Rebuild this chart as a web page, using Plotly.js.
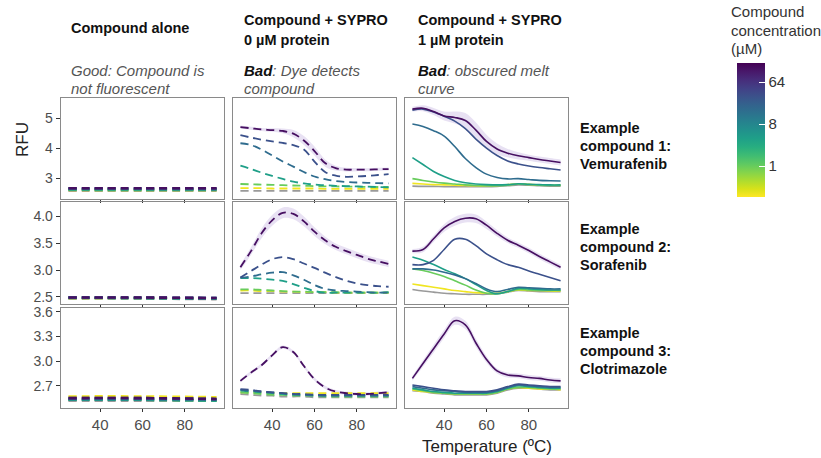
<!DOCTYPE html>
<html>
<head>
<meta charset="utf-8">
<script src="https://cdn.plot.ly/plotly-3.0.1.min.js"></script>
<style>html,body{margin:0;padding:0;background:#fff}#chart{width:821px;height:458px}</style>
</head>
<body>
<div id="chart"></div>
<script>
// ---------------- DATA ----------------
const T = [25,30,35,40,45,50,55,60,65,70,75,80,85,90,95];
const T_FLAT = [25,60,95];
// series order in every panel: 0 µM (gray), then compound concentrations
const CONC = [0.25, 1, 4, 16, 32, 128];
const colHeaders = [["Compound alone"],["Compound + SYPRO","0 µM protein"],["Compound + SYPRO","1 µM protein"]];
const colNotes = [["Good: Compound is","not fluorescent"],["<b>Bad</b>: Dye detects","compound"],["<b>Bad</b>: obscured melt","curve"]];
const rowLabels = [["Example","compound 1:","Vemurafenib"],["Example","compound 2:","Sorafenib"],["Example","compound 3:","Clotrimazole"]];
const yTicks = [[3,4,5],[2.5,3.0,3.5,4.0],[2.7,3.0,3.3,3.6]];
const yRanges = [[2.3,5.67],[2.37,4.26],[2.43,3.645]];
const xTicks = [40,60,80];
const cbTicks = [1,8,64];

// Vemurafenib
const vem_alone = [
 [2.58,2.58,2.58],[2.60,2.60,2.60],[2.61,2.60,2.60],[2.62,2.62,2.62],
 [2.64,2.64,2.63],[2.66,2.66,2.65],[2.66,2.66,2.66]];
const vem_sypro = [
 [2.57,2.57,2.57,2.57,2.57,2.57,2.57,2.57,2.57,2.57,2.57,2.57,2.57,2.57,2.57],
 [2.66,2.66,2.66,2.65,2.65,2.65,2.65,2.65,2.64,2.64,2.64,2.64,2.64,2.64,2.64],
 [2.80,2.79,2.78,2.77,2.76,2.75,2.74,2.73,2.72,2.72,2.71,2.71,2.70,2.70,2.70],
 [3.41,3.30,3.18,3.07,2.97,2.88,2.82,2.78,2.76,2.74,2.73,2.72,2.71,2.70,2.69],
 [4.16,4.10,3.95,3.75,3.55,3.38,3.20,3.05,2.96,2.90,2.87,2.85,2.84,2.83,2.82],
 [4.43,4.35,4.28,4.22,4.17,4.10,3.95,3.55,3.20,3.08,3.04,3.05,3.07,3.10,3.13],
 [4.70,4.66,4.62,4.60,4.57,4.48,4.25,3.90,3.50,3.33,3.28,3.28,3.28,3.29,3.30]];
const vem_sypro_sd = [0.05,0.05,0.05,0.06,0.08,0.12,0.15,0.15,0.12,0.08,0.06,0.05,0.05,0.05,0.05];
const vem_protein = [
 [2.73,2.72,2.72,2.71,2.71,2.71,2.71,2.71,2.72,2.74,2.77,2.76,2.74,2.73,2.73],
 [2.82,2.80,2.78,2.77,2.76,2.75,2.74,2.74,2.75,2.78,2.81,2.79,2.77,2.76,2.76],
 [2.98,2.92,2.87,2.83,2.80,2.77,2.75,2.74,2.74,2.76,2.80,2.78,2.76,2.75,2.75],
 [3.68,3.45,3.22,3.05,2.92,2.84,2.80,2.78,2.77,2.78,2.81,2.79,2.78,2.77,2.77],
 [4.80,4.72,4.58,4.40,4.05,3.65,3.35,3.13,3.02,2.97,2.98,2.95,2.92,2.91,2.90],
 [5.26,5.30,5.20,5.06,4.90,4.65,4.30,4.00,3.75,3.57,3.47,3.40,3.35,3.31,3.27],
 [5.30,5.33,5.22,5.07,5.02,4.92,4.60,4.22,3.97,3.83,3.74,3.68,3.62,3.57,3.52]];
const vem_protein_sd = [0.08,0.10,0.12,0.15,0.20,0.25,0.25,0.22,0.18,0.14,0.12,0.10,0.10,0.10,0.10];

// Sorafenib
const sora_alone = [
 [2.47,2.47,2.46],[2.48,2.48,2.47],[2.48,2.48,2.47],[2.49,2.48,2.47],
 [2.49,2.48,2.48],[2.49,2.49,2.48],[2.49,2.49,2.48]];
const sora_sypro = [
 [2.57,2.57,2.57,2.57,2.57,2.57,2.57,2.57,2.57,2.57,2.57,2.57,2.57,2.57,2.57],
 [2.62,2.62,2.61,2.61,2.60,2.60,2.59,2.59,2.59,2.58,2.58,2.58,2.58,2.58,2.58],
 [2.64,2.64,2.63,2.62,2.61,2.60,2.60,2.59,2.59,2.59,2.58,2.58,2.58,2.58,2.58],
 [2.85,2.85,2.84,2.82,2.80,2.74,2.67,2.61,2.58,2.58,2.58,2.58,2.58,2.58,2.59],
 [2.86,2.88,2.92,2.95,2.96,2.90,2.82,2.72,2.65,2.62,2.61,2.60,2.59,2.58,2.58],
 [2.86,2.98,3.10,3.20,3.24,3.20,3.12,3.04,2.95,2.87,2.80,2.75,2.72,2.70,2.69],
 [3.05,3.35,3.68,3.92,4.06,4.04,3.90,3.71,3.55,3.43,3.35,3.28,3.21,3.16,3.11]];
const sora_sypro_sd = [0.05,0.07,0.09,0.10,0.10,0.10,0.09,0.08,0.07,0.06,0.06,0.06,0.06,0.06,0.06];
const sora_protein = [
 [2.64,2.61,2.59,2.57,2.56,2.55,2.55,2.55,2.56,2.59,2.62,2.61,2.60,2.60,2.60],
 [2.74,2.71,2.68,2.65,2.62,2.60,2.58,2.57,2.57,2.60,2.63,2.62,2.62,2.61,2.61],
 [3.02,2.99,2.94,2.88,2.80,2.72,2.63,2.57,2.56,2.60,2.64,2.63,2.62,2.62,2.62],
 [3.24,3.18,3.10,3.01,2.93,2.84,2.73,2.62,2.56,2.60,2.66,2.65,2.64,2.63,2.63],
 [3.02,3.02,3.00,2.96,2.91,2.84,2.75,2.65,2.60,2.64,2.68,2.67,2.66,2.65,2.65],
 [3.10,3.10,3.18,3.38,3.57,3.57,3.45,3.30,3.19,3.10,3.05,2.98,2.92,2.86,2.80],
 [3.35,3.38,3.58,3.78,3.90,3.96,3.95,3.83,3.68,3.55,3.46,3.36,3.25,3.15,3.05]];
const sora_protein_sd = [0.04,0.05,0.06,0.07,0.08,0.08,0.08,0.07,0.06,0.05,0.05,0.05,0.05,0.05,0.05];

// Clotrimazole
const clot_alone = [
 [2.52,2.52,2.52],[2.57,2.57,2.56],[2.53,2.53,2.52],[2.53,2.53,2.52],
 [2.54,2.54,2.53],[2.55,2.55,2.54],[2.55,2.55,2.54]];
const clot_sypro = [
 [2.60,2.59,2.58,2.58,2.57,2.57,2.57,2.56,2.56,2.56,2.56,2.56,2.56,2.56,2.56],
 [2.62,2.62,2.62,2.61,2.61,2.61,2.61,2.61,2.61,2.61,2.61,2.61,2.61,2.61,2.61],
 [2.62,2.61,2.60,2.59,2.59,2.58,2.58,2.58,2.57,2.57,2.57,2.57,2.57,2.57,2.57],
 [2.64,2.63,2.62,2.61,2.60,2.59,2.59,2.58,2.58,2.58,2.58,2.58,2.58,2.58,2.58],
 [2.65,2.64,2.63,2.62,2.61,2.60,2.59,2.59,2.58,2.58,2.58,2.58,2.58,2.58,2.58],
 [2.66,2.65,2.63,2.62,2.61,2.60,2.60,2.59,2.59,2.59,2.59,2.59,2.59,2.59,2.59],
 [2.76,2.86,2.95,3.07,3.17,3.11,2.94,2.78,2.68,2.63,2.61,2.60,2.60,2.61,2.62]];
const clot_sypro_sd = [0.02,0.02,0.02,0.02,0.02,0.02,0.02,0.02,0.02,0.02,0.02,0.02,0.02,0.02,0.02];
const clot_protein = [
 [2.64,2.63,2.61,2.60,2.59,2.59,2.59,2.59,2.61,2.65,2.67,2.67,2.66,2.65,2.65],
 [2.65,2.63,2.62,2.61,2.60,2.60,2.60,2.60,2.62,2.66,2.68,2.67,2.66,2.66,2.65],
 [2.66,2.64,2.62,2.61,2.60,2.60,2.60,2.60,2.62,2.66,2.68,2.68,2.67,2.66,2.66],
 [2.67,2.65,2.63,2.62,2.61,2.61,2.61,2.61,2.63,2.67,2.70,2.69,2.68,2.67,2.67],
 [2.69,2.67,2.65,2.64,2.63,2.62,2.62,2.62,2.64,2.68,2.71,2.70,2.69,2.68,2.68],
 [2.71,2.69,2.67,2.65,2.64,2.63,2.63,2.63,2.65,2.69,2.72,2.71,2.70,2.69,2.69],
 [2.79,2.97,3.15,3.33,3.49,3.44,3.22,3.02,2.88,2.83,2.82,2.80,2.79,2.77,2.76]];
const clot_protein_sd = [0.03,0.04,0.05,0.05,0.05,0.05,0.05,0.04,0.03,0.03,0.03,0.03,0.03,0.03,0.03];

const panels = [
 [vem_alone, vem_sypro, vem_protein],
 [sora_alone, sora_sypro, sora_protein],
 [clot_alone, clot_sypro, clot_protein]];
const panelSd = [
 [null, vem_sypro_sd, vem_protein_sd],
 [null, sora_sypro_sd, sora_protein_sd],
 [null, clot_sypro_sd, clot_protein_sd]];

// ---------------- STYLE / LAYOUT ----------------
const W = 821, H = 458;
const px = x => x / W, py = y => 1 - y / H;
const colPx = [[61,224],[233,396],[405,568]];
const rowPx = [[98,199],[202,304],[308,408]];
const LMIN = -2.2, LMAX = 7.36;   // log2 colour range

const VIR = [[0,'#440154'],[0.0627,'#48186a'],[0.1255,'#472d7b'],[0.1882,'#424086'],[0.2510,'#3b528b'],[0.3137,'#33638d'],[0.3765,'#2c728e'],[0.4392,'#26828e'],[0.5020,'#21918c'],[0.5647,'#1fa088'],[0.6275,'#28ae80'],[0.6902,'#3fbc73'],[0.7529,'#5ec962'],[0.8157,'#84d44b'],[0.8784,'#addc30'],[0.9412,'#d8e219'],[1,'#fde725']];
function hex2rgb(h){return [parseInt(h.slice(1,3),16),parseInt(h.slice(3,5),16),parseInt(h.slice(5,7),16)];}
function viridis(t){
  t = Math.max(0, Math.min(1, t));
  for (let i = 1; i < VIR.length; i++) {
    if (t <= VIR[i][0]) {
      const a = VIR[i-1], b = VIR[i], f = (t - a[0]) / (b[0] - a[0]);
      const ca = hex2rgb(a[1]), cb = hex2rgb(b[1]);
      return 'rgb(' + ca.map((v,k)=>Math.round(v + f*(cb[k]-v))).join(',') + ')';
    }
  }
  return VIR[VIR.length-1][1];
}
function concColor(c){ return viridis(1 - (Math.log2(c) - LMIN) / (LMAX - LMIN)); }
const seriesColors = ['#9a9a9a'].concat(CONC.map(concColor));

const traces = [];
const layout = {
  width: W, height: H,
  margin: {l:0, r:0, t:0, b:0},
  paper_bgcolor: '#fff', plot_bgcolor: '#fff',
  showlegend: false,
  font: {family: 'Liberation Sans, Arial, sans-serif', color: '#4d4d4d'},
  annotations: []
};

for (let r = 0; r < 3; r++) {
  for (let c = 0; c < 3; c++) {
    const p = r*3 + c + 1;
    const xa = 'x' + (p === 1 ? '' : p), ya = 'y' + (p === 1 ? '' : p);
    const xKey = 'xaxis' + (p === 1 ? '' : p), yKey = 'yaxis' + (p === 1 ? '' : p);
    layout[xKey] = {
      domain: [px(colPx[c][0]), px(colPx[c][1])], anchor: ya,
      range: [21.5, 98.5], tickvals: xTicks, ticks: 'outside', ticklen: 3, tickwidth: 1,
      tickcolor: '#333', showticklabels: r === 2, showgrid: false, zeroline: false,
      showline: true, mirror: true, linecolor: '#8a8a8a', linewidth: 1.3,
      tickfont: {size: 15, color: '#4d4d4d'}
    };
    layout[yKey] = {
      domain: [py(rowPx[r][1]), py(rowPx[r][0])], anchor: xa,
      range: yRanges[r], tickvals: yTicks[r], tickformat: r === 0 ? 'd' : '.1f',
      ticks: c === 0 ? 'outside' : '', ticklen: 4, tickcolor: '#333',
      showticklabels: c === 0, showgrid: false, zeroline: false,
      showline: true, mirror: true, linecolor: '#8a8a8a', linewidth: 1.3,
      tickfont: {size: 14, color: '#4d4d4d'}
    };
    const data = panels[r][c];
    const xs = c === 0 ? T_FLAT : T;
    const sd = panelSd[r][c];
    if (sd) {
      const top = data[data.length-1];
      traces.push({x: xs, y: top.map((v,i)=>v - sd[i]), xaxis: xa, yaxis: ya, mode: 'lines',
        line: {width: 0, shape: 'spline'}, hoverinfo: 'skip'});
      traces.push({x: xs, y: top.map((v,i)=>v + sd[i]), xaxis: xa, yaxis: ya, mode: 'lines',
        line: {width: 0, shape: 'spline'}, fill: 'tonexty', fillcolor: 'rgba(180,155,215,0.30)', hoverinfo: 'skip'});
    }
    data.forEach((ys, k) => {
      traces.push({
        x: xs, y: ys, xaxis: xa, yaxis: ya, mode: 'lines',
        line: {
          color: seriesColors[k], shape: 'spline',
          width: c === 0 ? 2.6 : (c === 1 ? 1.8 : 1.6),
          dash: c === 2 ? 'solid' : '8px,5px'
        }
      });
    });
  }
}

// colour bar carrier
traces.push({
  x: [null], y: [null], xaxis: 'x', yaxis: 'y', mode: 'markers', hoverinfo: 'skip',
  marker: {
    color: [0], cmin: LMIN, cmax: LMAX, colorscale: 'Viridis', reversescale: true, showscale: true,
    colorbar: {
      x: px(737), xanchor: 'left', xpad: 0, y: py(130), yanchor: 'middle', ypad: 0,
      len: 134, lenmode: 'pixels', thickness: 28, thicknessmode: 'pixels',
      outlinewidth: 0, ticks: 'inside', ticklen: 6, tickcolor: '#ffffff', tickwidth: 1,
      tickvals: cbTicks.map(v => Math.log2(v)), ticktext: cbTicks.map(String),
      tickfont: {size: 15, color: '#333'}
    }
  }
});

const ann = layout.annotations;
const boldFam = 'Liberation Sans, Arial, sans-serif';
function addText(text, x, y, opts) {
  ann.push(Object.assign({text: text, x: px(x), y: py(y), xref: 'paper', yref: 'paper',
    xanchor: 'left', yanchor: 'middle', showarrow: false}, opts));
}
const headX = [69, 242, 416];
colHeaders.forEach((lines, c) => {
  if (lines.length === 1) {
    addText('<b>' + lines[0] + '</b>', headX[c], 28, {font: {family: boldFam, size: 14.5, color: '#111'}});
  } else {
    addText('<b>' + lines[0] + '</b>', headX[c], 20, {font: {family: boldFam, size: 14.5, color: '#111'}});
    addText('<b>' + lines[1] + '</b>', headX[c], 40, {font: {family: boldFam, size: 14.5, color: '#111'}});
  }
});
colNotes.forEach((lines, c) => {
  lines.forEach((l, i) => {
    const txt = '<i>' + l.replace('<b>Bad</b>', '<b><span style="color:#111">Bad</span></b>') + '</i>';
    addText(txt, headX[c], 70 + i*18, {font: {family: 'Liberation Sans, Arial, sans-serif', size: 15, color: '#555'}});
  });
});
const rowY = [128, 229, 333];
rowLabels.forEach((lines, r) => {
  lines.forEach((l, i) => {
    addText('<b>' + l + '</b>', 578, rowY[r] + i*18, {font: {family: boldFam, size: 14.5, color: '#111'}});
  });
});
addText('Compound', 729, 12, {font: {size: 15, color: '#333'}});
addText('concentration', 729, 30, {font: {size: 15, color: '#333'}});
addText('(µM)', 729, 48, {font: {size: 15, color: '#333'}});
ann.push({text: 'RFU', x: px(22), y: py(140), xref: 'paper', yref: 'paper', textangle: -90,
  xanchor: 'center', yanchor: 'middle', showarrow: false, font: {size: 17, color: '#222'}});
ann.push({text: 'Temperature (ºC)', x: px(487), y: py(446), xref: 'paper', yref: 'paper',
  xanchor: 'center', yanchor: 'middle', showarrow: false, font: {size: 17, color: '#222'}});

Plotly.newPlot('chart', traces, layout, {displayModeBar: false, staticPlot: true});
</script>
</body>
</html>
